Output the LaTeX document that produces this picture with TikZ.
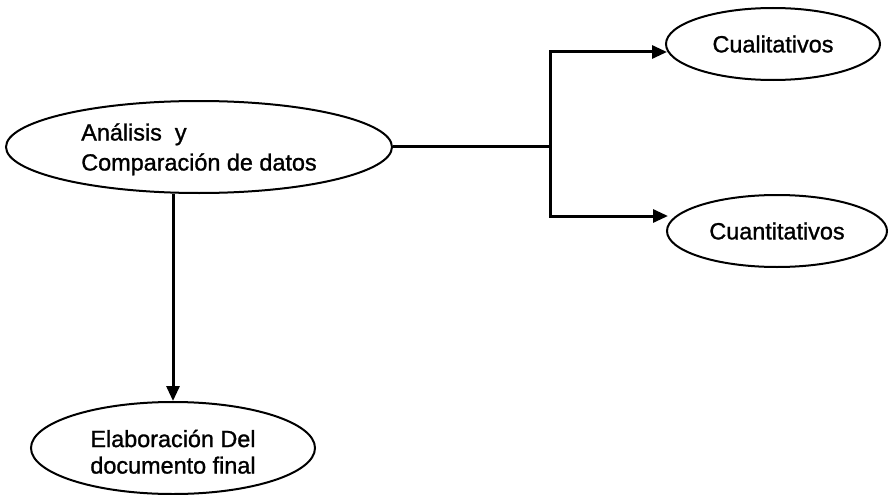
\documentclass[tikz,border=0pt]{standalone}
\usepackage{fontspec}
\setmainfont{Liberation Sans}[BoldFont=Liberation Sans, BoldFeatures={FakeBold=1.2}]
\usetikzlibrary{arrows.meta,shapes.geometric}

\tikzset{
  bubble/.style={ellipse, draw, line width=2pt, inner sep=0pt, align=left},
  link/.style={line width=3pt},
  arr/.style={link, -{Triangle[length=15pt,width=13pt]}}
}

\begin{document}
\begin{tikzpicture}[x=1pt, y=-1pt]
  \useasboundingbox (0,0) rectangle (894,495);

  % ellipses
  \node[bubble, minimum width=386pt, minimum height=92pt,
        font=\fontsize{23.4}{30}\selectfont\bfseries] (ana) at (199,147)
    {\raisebox{-2.5pt}[\height][\depth]{\begin{tabular}{@{}l@{}}Análisis\ \ y\\Comparación de datos\end{tabular}}};
  \node[bubble, minimum width=214pt, minimum height=72pt,
        font=\fontsize{23.4}{28}\selectfont\bfseries] (cual) at (773,44)
    {Cualitativos};
  \node[bubble, minimum width=220pt, minimum height=72pt,
        font=\fontsize{23.4}{28}\selectfont\bfseries] (cuan) at (777,231)
    {Cuantitativos};
  \node[bubble, minimum width=284pt, minimum height=92pt,
        font=\fontsize{23.4}{26.5}\selectfont\bfseries] (elab) at (173,448)
    {\raisebox{-7pt}[\height][\depth]{\begin{tabular}{@{}l@{}}Elaboración Del\\documento final\end{tabular}}};

  % branching connector
  \coordinate (j) at (550,146);
  \coordinate (jt) at (550,52);
  \coordinate (jb) at (550,216);
  \draw[link] (ana.east |- j) -- (j);
  \draw[arr] (j) |- ([xshift=2pt]cual.west |- jt);
  \draw[arr] (j) |- ([xshift=2pt]cuan.west |- jb);

  % downward connector
  \draw[arr] (elab.north |- ana.south) -- (elab.north);
\end{tikzpicture}
\end{document}
